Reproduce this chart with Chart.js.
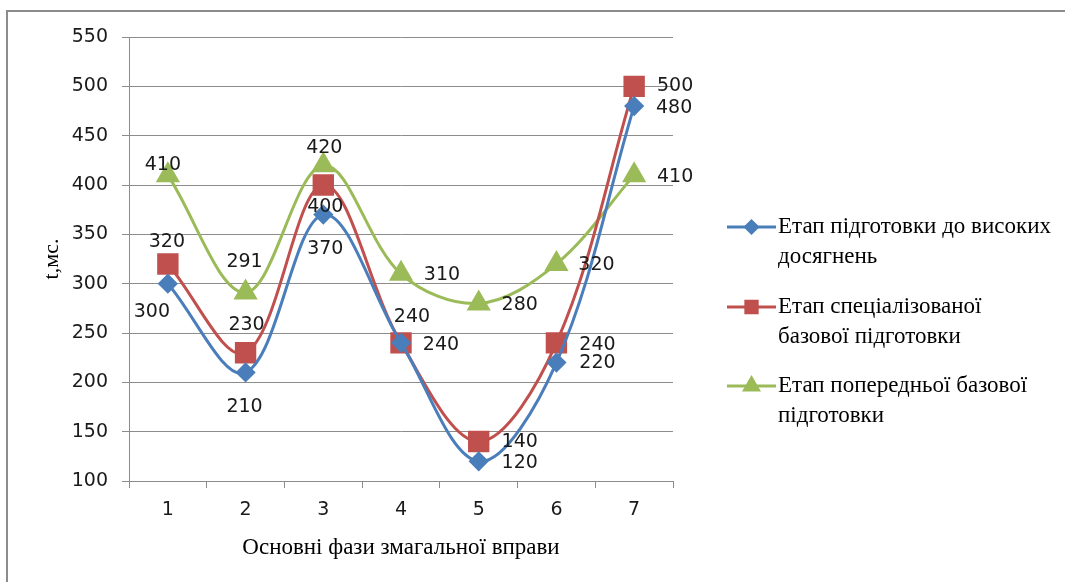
<!DOCTYPE html>
<html>
<head>
<meta charset="utf-8">
<script src="https://cdn.jsdelivr.net/npm/chart.js@4.4.1/dist/chart.umd.min.js"></script>
<style>
    html, body { margin: 0; padding: 0; background: #fff; overflow: hidden; }
    #wrap { position: relative; width: 1065px; height: 582px; }
    #frame { position: absolute; left: 6px; top: 10px; width: 1200px; height: 700px;
             border-left: 2px solid #8c8c8c; border-top: 2px solid #8c8c8c; }
    #chart { position: absolute; left: 0; top: 0; }
</style>
</head>
<body>
<div id="wrap">
    <div id="frame"></div>
    <canvas id="chart" width="1065" height="582"></canvas>
</div>
<script>
var phases = ["1", "2", "3", "4", "5", "6", "7"];
var highStage = [300, 210, 370, 240, 120, 220, 480];
var specStage = [320, 230, 400, 240, 140, 240, 500];
var prelimStage = [410, 291, 420, 310, 280, 320, 410];

var seriesNames = [
    ["Етап підготовки до високих", "досягнень"],
    ["Етап спеціалізованої", "базової підготовки"],
    ["Етап попередньої базової", "підготовки"]
];

// where each value label sits relative to its point (px)
var labelShift = [
    [[-16, 28], [-1, 35], [2, 34], [40, 2], [41, 2], [41, 0], [40, 2]],
    [[-1, -22], [1, -28], [2, 22], [11, -26], [41, 1], [41, 2], [41, 0]],
    [[-5, -10], [-1, -30], [1, -17], [41, 1], [41, 2], [40, 1], [41, 2]]
];

var COLORS = ["#4a7ebb", "#c0504d", "#9bbb59"];
var STYLES = ["rectRot", "rect", "triangle"];
var RADII = [8, 13, 11];
var LEGEND_RADII = [6, 8, 8];

var SANS = "'DejaVu Sans', sans-serif";
var SERIF = "'Liberation Serif', 'Times New Roman', serif";

var valueLabels = {
    id: "valueLabels",
    afterDatasetsDraw: function (chart) {
        var ctx = chart.ctx;
        ctx.save();
        ctx.font = "19px " + SANS;
        ctx.fillStyle = "#1a1a1a";
        ctx.textAlign = "center";
        ctx.textBaseline = "middle";
        chart.data.datasets.forEach(function (ds, i) {
            var meta = chart.getDatasetMeta(i);
            meta.data.forEach(function (pt, j) {
                var s = labelShift[i][j];
                ctx.fillText(String(ds.data[j]), pt.x + s[0], pt.y + s[1]);
            });
        });
        ctx.restore();
    }
};

var sideLegend = {
    id: "sideLegend",
    afterDraw: function (chart) {
        var ctx = chart.ctx;
        var x0 = 727, x1 = 776, tx = 778;
        var tops = [227, 307, 386];
        ctx.save();
        seriesNames.forEach(function (lines, i) {
            var y = tops[i];
            ctx.strokeStyle = COLORS[i];
            ctx.lineWidth = 3;
            ctx.beginPath();
            ctx.moveTo(x0, y);
            ctx.lineTo(x1, y);
            ctx.stroke();
            ctx.fillStyle = COLORS[i];
            Chart.helpers.drawPoint(ctx, {
                pointStyle: STYLES[i], radius: LEGEND_RADII[i], rotation: 0, borderWidth: 1
            }, (x0 + x1) / 2, y);
            ctx.fill();
            ctx.fillStyle = "#000";
            ctx.font = "23px " + SERIF;
            ctx.textAlign = "left";
            ctx.textBaseline = "middle";
            lines.forEach(function (t, k) {
                ctx.fillText(t, tx, y + k * 30);
            });
        });
        ctx.restore();
    }
};

function makeSet(data, i) {
    return {
        label: seriesNames[i].join(" "),
        data: data,
        borderColor: COLORS[i],
        backgroundColor: COLORS[i],
        pointBackgroundColor: COLORS[i],
        pointBorderColor: COLORS[i],
        pointStyle: STYLES[i],
        pointRadius: RADII[i],
        pointHoverRadius: RADII[i],
        borderWidth: 3,
        tension: 0.35,
        fill: false
    };
}

new Chart(document.getElementById("chart"), {
    type: "line",
    data: {
        labels: phases,
        datasets: [makeSet(highStage, 0), makeSet(specStage, 1), makeSet(prelimStage, 2)]
    },
    options: {
        responsive: false,
        animation: false,
        layout: { padding: { left: 35, right: 392, top: 37, bottom: 16 } },
        plugins: { legend: { display: false }, tooltip: { enabled: false } },
        scales: {
            x: {
                offset: true,
                grid: { display: true, drawOnChartArea: false, drawTicks: true, tickLength: 7, color: "#8c8c8c", offset: true },
                border: { display: true, color: "#8c8c8c", width: 1 },
                ticks: { color: "#1a1a1a", font: { family: SANS, size: 19 }, padding: 11 },
                title: { display: true, text: "Основні фази змагальної вправи", color: "#000",
                         font: { family: SERIF, size: 23 }, padding: { top: 4, bottom: 4 } },
                afterFit: function (s) { s.height = 85; }
            },
            y: {
                min: 100,
                max: 550,
                ticks: { stepSize: 50, color: "#1a1a1a", font: { family: SANS, size: 19 }, padding: 14 },
                grid: { color: "#8c8c8c", tickLength: 7, drawTicks: true },
                border: { display: true, color: "#8c8c8c", width: 1 },
                title: { display: true, text: "t,мс.", color: "#000",
                         font: { family: SERIF, size: 22 }, padding: { top: 4, bottom: 4 } },
                afterFit: function (s) { s.width = 94; }
            }
        }
    },
    plugins: [valueLabels, sideLegend]
});
</script>
</body>
</html>
